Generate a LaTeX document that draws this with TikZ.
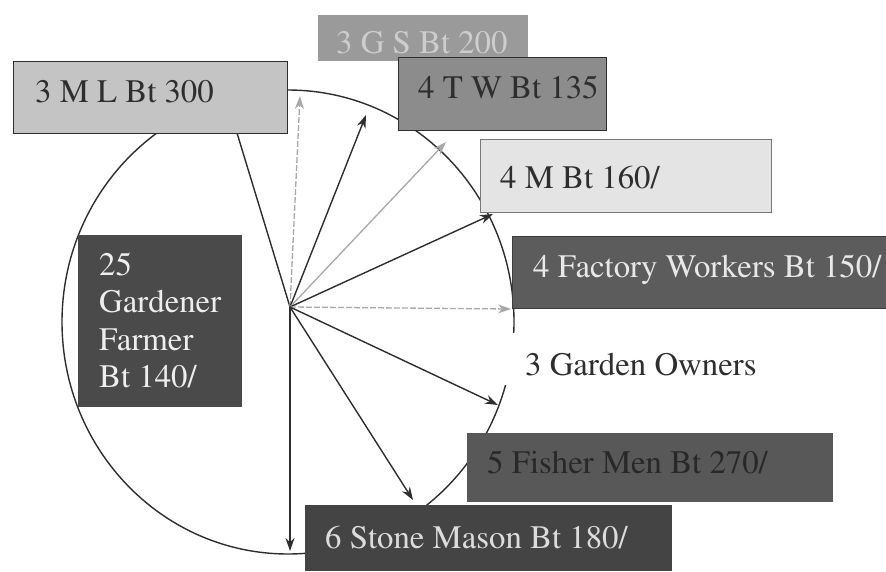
\documentclass[tikz,border=0pt]{standalone}
\usepackage[T1]{fontenc}
\usepackage{mathptmx}
\usetikzlibrary{arrows.meta}
\definecolor{ink}{HTML}{2E2E2E}
\definecolor{lgray}{HTML}{A8A8A8}
\newcommand{\lblfont}{\rmfamily\fontsize{32.8}{37.5}\selectfont}
\tikzset{
  boxbase/.style={rectangle, inner sep=0pt, anchor=north west},
  lbl/.style={anchor=base west, inner sep=0pt, font=\lblfont},
  arr/.style={draw=ink, line width=1.4pt, -{Stealth[length=13pt,width=9pt]}},
  garr/.style={draw=lgray, line width=1.3pt, -{Stealth[length=13pt,width=9pt]}},
  gdarr/.style={garr, dash pattern=on 6pt off 2pt},
}
\begin{document}
\begin{tikzpicture}[x=1pt,y=-1pt]
\useasboundingbox (0,0) rectangle (886,571);
\fill[white] (0,0) rectangle (886,571);
% outline ellipse
\draw[ink, line width=1.4pt] (288,322) ellipse [x radius=226pt, y radius=232pt];
% center and tips
\coordinate (o) at (290,307);
\coordinate (t1) at (300,96);
\coordinate (t2) at (366,115);
\coordinate (t3) at (446,142);
\coordinate (t4) at (493,214);
\coordinate (t5) at (511,309);
\coordinate (t6) at (498,405);
\coordinate (t7) at (413,500);
\coordinate (t8) at (290,551);
\coordinate (mlfoot) at (237,133);
% connectors
\draw[ink, line width=1.4pt] (o) -- (mlfoot);
\draw[gdarr] (o) -- (t1);
\draw[arr] (o) -- (t2);
\draw[garr] (o) -- (t3);
\draw[arr] (o) -- (t4);
\draw[gdarr] (o) -- (t5);
\draw[arr] (o) -- (t6);
\draw[arr] (o) -- (t7);
\draw[arr] (o) -- (t8);
% boxes
\node[boxbase, fill={rgb,255:red,154;green,154;blue,154}, minimum width=210pt, minimum height=46pt] (gsbox) at (318,15) {};
\node[lbl, text={rgb,255:red,205;green,205;blue,205}] (gstext) at (336,53) {3 G S Bt 200};
\node[boxbase, fill={rgb,255:red,196;green,196;blue,196}, draw=ink, line width=1pt, minimum width=274pt, minimum height=72pt] (mlbox) at (13,61) {};
\node[lbl, text=ink] (mltext) at (35,102) {3 M L Bt 300};
\node[boxbase, fill={rgb,255:red,140;green,140;blue,140}, draw=ink, line width=1pt, minimum width=208pt, minimum height=73pt] (twbox) at (398,57) {};
\node[lbl, text=ink] (twtext) at (418,98) {4 T W Bt 135};
\node[boxbase, fill={rgb,255:red,228;green,228;blue,228}, draw={rgb,255:red,120;green,120;blue,120}, line width=1pt, minimum width=291pt, minimum height=73pt] (mbox) at (480,139) {};
\node[lbl, text=ink] (mtext) at (500,188) {4 M Bt 160/};
\node[boxbase, fill={rgb,255:red,92;green,92;blue,92}, draw={rgb,255:red,60;green,60;blue,60}, line width=1pt, minimum width=376pt, minimum height=72pt] (fwbox) at (512,236) {};
\node[lbl, text={rgb,255:red,232;green,232;blue,232}] (fwtext) at (533,277) {4 Factory Workers Bt 150/};
\node[boxbase, fill={rgb,255:red,74;green,74;blue,74}, minimum width=164pt, minimum height=172pt] (gfbox) at (78,235) {};
\node[lbl, text={rgb,255:red,238;green,238;blue,238}, align=left, anchor=north west] (gftext) at (99,253) {\lblfont 25\\\lblfont Gardener\\\lblfont Farmer\\\lblfont Bt 140/};
\node[fill=white, inner sep=0pt, minimum width=292pt, minimum height=52pt, anchor=north west] (gobox) at (499,333) {};
\node[lbl, text=ink] (gotext) at (525,375) {3 Garden Owners};
\node[boxbase, fill={rgb,255:red,88;green,88;blue,88}, minimum width=366pt, minimum height=69pt] (fmbox) at (467,433) {};
\node[lbl, text={rgb,255:red,40;green,40;blue,40}] (fmtext) at (487,473) {5 Fisher Men Bt 270/};
\node[boxbase, fill={rgb,255:red,68;green,68;blue,68}, minimum width=367pt, minimum height=66pt] (smbox) at (305,505) {};
\node[lbl, text={rgb,255:red,220;green,220;blue,220}] (smtext) at (325,548) {6 Stone Mason Bt 180/};
\end{tikzpicture}
\end{document}
